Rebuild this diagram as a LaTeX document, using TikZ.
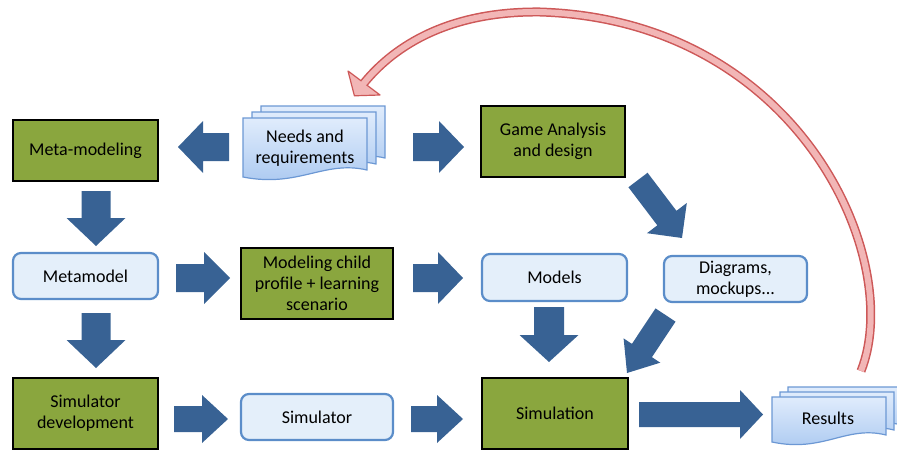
\documentclass[tikz,border=0pt]{standalone}
\usepackage{fontspec}
\setmainfont{Carlito}
\usetikzlibrary{calc}
\definecolor{gbox}{RGB}{138,166,62}
\definecolor{ablue}{RGB}{56,98,148}
\definecolor{lbfill}{RGB}{228,239,250}
\definecolor{lbdraw}{RGB}{91,141,201}
\definecolor{doctop}{RGB}{224,236,252}
\definecolor{docbot}{RGB}{168,199,240}
\definecolor{docdraw}{RGB}{108,152,212}
\definecolor{redline}{RGB}{205,88,88}
\definecolor{redfill}{RGB}{242,182,182}
\tikzset{
  lbl/.style={font=\fontsize{18}{21}\selectfont, align=center, text=black},
  greenbox/.style={lbl, draw=black, line width=2.6pt, fill=gbox},
  lightbox/.style={lbl, draw=lbdraw, line width=2.2pt, fill=lbfill, rounded corners=8pt},
  doctext/.style={lbl, draw=none},
  docpage/.style={draw=docdraw, line width=1.2pt, top color=doctop, bottom color=docbot},
}
% tail, tip, shaft half width, head half width, head length
\newcommand{\blk}[5]{%
  \coordinate (bkC) at ($(#2)!#5!(#1)$);
  \fill[ablue] ($(#1)!#3!90:(#2)$) -- ($(bkC)!#3!90:(#2)$) -- ($(bkC)!#4!90:(#2)$) -- (#2)
    -- ($(bkC)!#4!-90:(#2)$) -- ($(bkC)!#3!-90:(#2)$) -- ($(#1)!#3!-90:(#2)$) -- cycle;}
% x0 y0 x1 y1
\newcommand{\docpg}[4]{%
  \draw[docpage] (#1,#2) -- (#3,#2) -- (#3,{#4-8})
    .. controls ({#3-0.35*(#3-#1)},{#4-18}) and ({#1+0.45*(#3-#1)},{#4+10}) .. (#1,{#4-1}) -- cycle;}
\begin{document}
\begin{tikzpicture}[x=1pt,y=-1pt]
\useasboundingbox (0,0) rectangle (897,452);
\begin{scope}
\clip (0,0) rectangle (897,452);

% documents
\docpg{261}{106}{385}{166}
\docpg{252}{112}{376}{172}
\docpg{243}{118}{367}{178}
\docpg{788}{387}{902}{433}
\docpg{780}{392}{894}{438}
\docpg{772}{397}{886}{443}

% nodes
\node[doctext, minimum width=124pt, minimum height=60pt] (needs) at (305,148) {Needs and\\requirements};
\node[doctext, minimum width=114pt, minimum height=46pt] (results) at (828,418) {Results};
\node[greenbox, minimum width=145pt, minimum height=61pt] (meta) at (85.5,150.5) {Meta-modeling};
\node[greenbox, minimum width=144pt, minimum height=71pt] (game) at (553,141.5) {Game Analysis\\and design};
\node[lightbox, minimum width=145pt, minimum height=46pt] (metamodel) at (85.5,276) {Metamodel};
\node[greenbox, minimum width=152pt, minimum height=71pt] (modeling) at (317,283.5) {Modeling child\\profile + learning\\scenario};
\node[lightbox, minimum width=145pt, minimum height=47pt] (models) at (554.5,277.5) {Models};
\node[lightbox, minimum width=143pt, minimum height=46pt] (diagrams) at (735.5,279) {Diagrams,\\mockups...};
\node[greenbox, minimum width=145pt, minimum height=71pt] (simdev) at (85.5,413.5) {Simulator\\development};
\node[lightbox, minimum width=152pt, minimum height=46pt] (simulator) at (317,417) {Simulator};
\node[greenbox, minimum width=146pt, minimum height=71pt] (simulation) at (555,413.5) {Simulation};

% block arrow end points
\coordinate (a1t) at (229,147); \coordinate (a1h) at (178,147);
\coordinate (a2t) at (413,147); \coordinate (a2h) at (464,147);
\coordinate (a3t) at (96,191);  \coordinate (a3h) at (96,246);
\coordinate (a4t) at (176,278); \coordinate (a4h) at (230,278);
\coordinate (a5t) at (413,278); \coordinate (a5h) at (463,278);
\coordinate (a6t) at (96,313);  \coordinate (a6h) at (96,368);
\coordinate (a7t) at (174,419); \coordinate (a7h) at (228,419);
\coordinate (a8t) at (411,419); \coordinate (a8h) at (463,419);
\coordinate (a9t) at (638,180); \coordinate (a9h) at (682,238);
\coordinate (a10t) at (549,307); \coordinate (a10h) at (549,362);
\coordinate (a11t) at (665.5,315); \coordinate (a11h) at (627,373);
\coordinate (a12t) at (639,414.5); \coordinate (a12h) at (763,414.5);

\blk{a1t}{a1h}{14pt}{26pt}{25pt}
\blk{a2t}{a2h}{14pt}{26pt}{25pt}
\blk{a3t}{a3h}{14.5pt}{29.5pt}{28pt}
\blk{a4t}{a4h}{14pt}{26pt}{26pt}
\blk{a5t}{a5h}{14pt}{26pt}{25pt}
\blk{a6t}{a6h}{14.5pt}{29.5pt}{28pt}
\blk{a7t}{a7h}{13pt}{24pt}{26pt}
\blk{a8t}{a8h}{13pt}{24pt}{26pt}
\blk{a9t}{a9h}{12pt}{25pt}{25pt}
\blk{a10t}{a10h}{15pt}{29.5pt}{27pt}
\blk{a11t}{a11h}{12pt}{22pt}{27pt}
\blk{a12t}{a12h}{12.5pt}{24.5pt}{23pt}

% red feedback arrow
\coordinate (rs) at (861,371);
\coordinate (rm) at (540,12);
\coordinate (rb) at (364,83);
\coordinate (rt) at (355,95);
\draw[redline, line width=9pt] (rs) .. controls (905,260) and (800,20) .. (rm)
   .. controls (450,11) and (395,45) .. (rb);
\draw[redline, line width=1.2pt, fill=redfill, line join=round]
   ($(rb)!20pt!90:(rt)$) -- ($(rt)!-1pt!(rb)$) -- ($(rb)!20pt!-90:(rt)$) -- cycle;
\draw[redfill, line width=6pt] (rs) .. controls (905,260) and (800,20) .. (rm)
   .. controls (450,11) and (395,45) .. (rb) -- ($(rb)!4pt!(rt)$);
\end{scope}
\end{tikzpicture}
\end{document}
